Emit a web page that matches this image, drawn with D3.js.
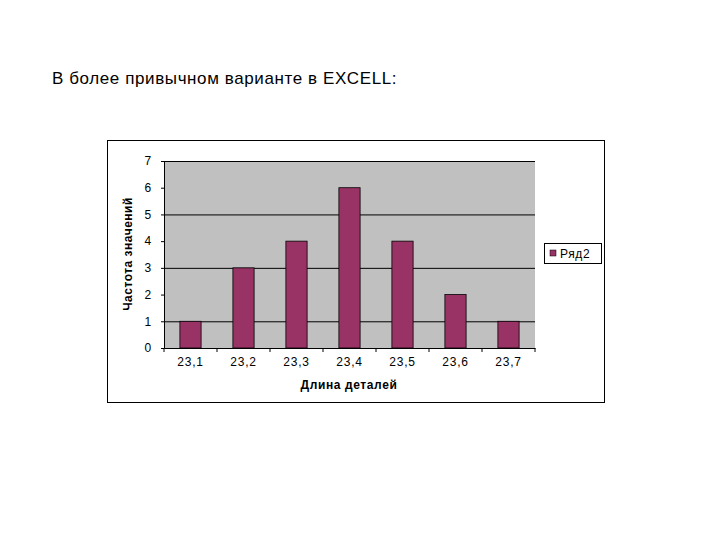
<!DOCTYPE html>
<html><head><meta charset="utf-8">
<script src="https://cdn.jsdelivr.net/npm/d3@7"></script>
<style>body{margin:0;background:#fff}text{font-family:Arial,"Liberation Sans",sans-serif}</style>
</head><body><div class="canva"></div>
<script>
const categories = ["23,1","23,2","23,3","23,4","23,5","23,6","23,7"];
const counts = [1,3,4,6,4,2,1];
const yTicks = [0,1,2,3,4,5,6,7];
const gridValues = [1,3,5,7];
const seriesName = "Ряд2";

const svg = d3.select(".canva").append("svg").attr("width",720).attr("height",540);

svg.append("text").attr("x",52).attr("y",84).attr("font-size",17).attr("letter-spacing",0.6)
  .text("В более привычном варианте в EXCELL:");

svg.append("rect").attr("x",107.5).attr("y",140.5).attr("width",497).attr("height",262)
  .attr("fill","#fff").attr("stroke","#000");

const plot = {left:164, right:535, top:161, bottom:348};
const x = d3.scaleBand().domain(categories).range([plot.left,plot.right]).paddingInner(0.6).paddingOuter(0.3);
const y = d3.scaleLinear().domain([0,7]).range([plot.bottom,plot.top]);

svg.append("rect").attr("x",plot.left).attr("y",plot.top)
  .attr("width",plot.right-plot.left).attr("height",plot.bottom-plot.top).attr("fill","#c0c0c0");

svg.selectAll(".grid").data(gridValues).enter().append("line")
  .attr("x1",plot.left).attr("x2",plot.right)
  .attr("y1",d=>y(d)+0.5).attr("y2",d=>y(d)+0.5).attr("stroke","#000");

svg.selectAll(".bar").data(counts).enter().append("rect")
  .attr("x",(d,i)=>x(categories[i])).attr("y",d=>y(d))
  .attr("width",x.bandwidth()).attr("height",d=>y(0)-y(d))
  .attr("fill","#993366").attr("stroke","#000").attr("stroke-width",0.8);

const yAxis = svg.append("g").attr("transform",`translate(${plot.left},0)`)
  .call(d3.axisLeft(y).tickValues(yTicks).tickFormat(d3.format("d")).tickSize(3));
const x0 = d3.scaleLinear().domain([0,7]).range([plot.left,plot.right]);
const xAxis = svg.append("g").attr("transform",`translate(0,${plot.bottom})`)
  .call(d3.axisBottom(x).tickSize(0).tickPadding(9));
svg.selectAll(".xt").data(d3.range(8)).enter().append("line")
  .attr("x1",d=>x0(d)).attr("x2",d=>x0(d)).attr("y1",plot.bottom).attr("y2",plot.bottom+4).attr("stroke","#000");
[yAxis,xAxis].forEach(g=>{g.selectAll("text").attr("font-size",12).attr("fill","#000").attr("letter-spacing",0.8);
  g.select(".domain").attr("stroke","#000");});
yAxis.selectAll("text").attr("dx",-6);

svg.append("text").attr("transform","translate(132,254) rotate(-90)").attr("text-anchor","middle")
  .attr("font-size",12).attr("font-weight","bold").attr("letter-spacing",0.5).text("Частота значений");
svg.append("text").attr("x",349).attr("y",389).attr("text-anchor","middle")
  .attr("font-size",12).attr("font-weight","bold").attr("letter-spacing",0.6).text("Длина деталей");

svg.append("rect").attr("x",544.5).attr("y",243.5).attr("width",57).attr("height",20)
  .attr("fill","#fff").attr("stroke","#000");
svg.append("rect").attr("x",550).attr("y",250).attr("width",6).attr("height",6)
  .attr("fill","#993366").attr("stroke","#000").attr("stroke-width",0.5);
svg.append("text").attr("x",560).attr("y",258).attr("font-size",12).attr("letter-spacing",0.6).text(seriesName);
</script></body></html>
